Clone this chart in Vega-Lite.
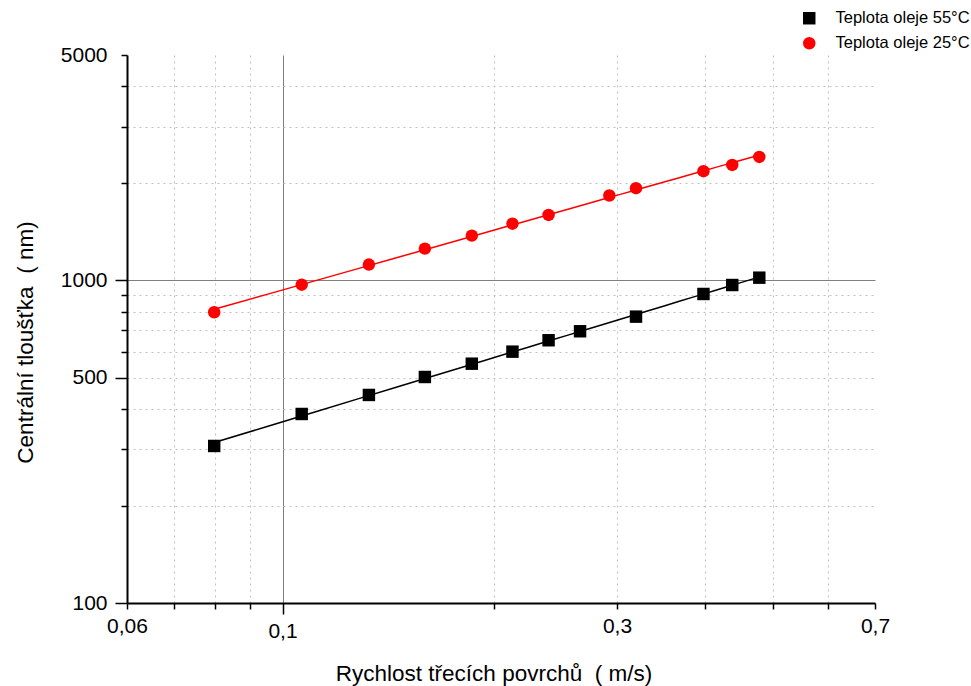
{
  "$schema": "https://vega.github.io/schema/vega-lite/v6.json",
  "width": 748,
  "height": 548,
  "autosize": {"type": "none"},
  "padding": {"left": 127, "top": 55, "right": 96, "bottom": 83},
  "background": "white",
  "config": {"font": "Liberation Sans", "view": {"stroke": null}},
  "data": {
    "values": [
      {"v": 0.0799, "h": 306.8, "s": "Teplota oleje 55°C"},
      {"v": 0.1065, "h": 385.5, "s": "Teplota oleje 55°C"},
      {"v": 0.1328, "h": 441.6, "s": "Teplota oleje 55°C"},
      {"v": 0.1596, "h": 502, "s": "Teplota oleje 55°C"},
      {"v": 0.1862, "h": 552, "s": "Teplota oleje 55°C"},
      {"v": 0.2128, "h": 601.5, "s": "Teplota oleje 55°C"},
      {"v": 0.2396, "h": 652.5, "s": "Teplota oleje 55°C"},
      {"v": 0.2657, "h": 695.8, "s": "Teplota oleje 55°C"},
      {"v": 0.3193, "h": 772.3, "s": "Teplota oleje 55°C"},
      {"v": 0.3985, "h": 908, "s": "Teplota oleje 55°C"},
      {"v": 0.438, "h": 968, "s": "Teplota oleje 55°C"},
      {"v": 0.4787, "h": 1020, "s": "Teplota oleje 55°C"},
      {"v": 0.0799, "h": 797, "s": "Teplota oleje 25°C"},
      {"v": 0.1065, "h": 970, "s": "Teplota oleje 25°C"},
      {"v": 0.1328, "h": 1120, "s": "Teplota oleje 25°C"},
      {"v": 0.1596, "h": 1255, "s": "Teplota oleje 25°C"},
      {"v": 0.1862, "h": 1377, "s": "Teplota oleje 25°C"},
      {"v": 0.2128, "h": 1500, "s": "Teplota oleje 25°C"},
      {"v": 0.2396, "h": 1596, "s": "Teplota oleje 25°C"},
      {"v": 0.2925, "h": 1834, "s": "Teplota oleje 25°C"},
      {"v": 0.3193, "h": 1932, "s": "Teplota oleje 25°C"},
      {"v": 0.3985, "h": 2181, "s": "Teplota oleje 25°C"},
      {"v": 0.438, "h": 2281, "s": "Teplota oleje 25°C"},
      {"v": 0.4787, "h": 2415, "s": "Teplota oleje 25°C"}
    ]
  },
  "encoding": {
    "x": {
      "field": "v",
      "type": "quantitative",
      "scale": {"type": "log", "domain": [0.06, 0.7], "nice": false},
      "axis": {
        "title": "Rychlost třecích povrchů \u00a0( m/s)",
        "values": [0.06, 0.07, 0.08, 0.09, 0.1, 0.2, 0.3, 0.4, 0.5, 0.6, 0.7],
        "format": ".2~f",
        "labelExpr": "indexof(['0.06','0.1','0.3','0.7'], datum.label) >= 0 ? replace(datum.label, '.', ',') : ''",
        "labelFontSize": 21,
        "labelColor": "black",
        "labelFlush": false,
        "labelOverlap": false,
        "labelPadding": 6,
        "domainColor": "black",
        "domainWidth": 2,
        "tickColor": "black",
        "tickWidth": 1.5,
        "tickSize": {"condition": {"test": "datum.value == 0.1", "value": 11}, "value": 6},
        "grid": true,
        "gridColor": {"condition": {"test": "datum.value == 0.1", "value": "#808080"}, "value": "#c0c0c0"},
        "gridDash": {"condition": {"test": "datum.value == 0.1", "value": []}, "value": [2, 4]},
        "gridOpacity": {"condition": {"test": "datum.value == 0.06 || datum.value == 0.7", "value": 0}, "value": 1},
        "gridWidth": 1,
        "titleFontSize": 22.5,
        "titleFontWeight": "normal",
        "titleColor": "black",
        "titleX": 366.5,
        "titleY": 77,
        "titleBaseline": "alphabetic",
        "titleAlign": "center"
      }
    },
    "y": {
      "field": "h",
      "type": "quantitative",
      "scale": {"type": "log", "domain": [100, 5000], "nice": false},
      "axis": {
        "title": "Centrální tloušťka \u00a0( nm)",
        "values": [100, 200, 300, 400, 500, 600, 700, 800, 900, 1000, 2000, 3000, 4000, 5000],
        "format": "d",
        "labelExpr": "indexof([100,500,1000,5000], datum.value) >= 0 ? datum.label : ''",
        "labelFontSize": 21,
        "labelColor": "black",
        "labelFlush": false,
        "labelOverlap": false,
        "labelPadding": {"condition": {"test": "datum.value == 5000", "value": 14}, "value": 8},
        "domainColor": "black",
        "domainWidth": 2,
        "tickColor": "black",
        "tickWidth": 1.5,
        "tickSize": {"condition": {"test": "datum.value == 100 || datum.value == 500 || datum.value == 1000", "value": 12}, "value": 6},
        "grid": true,
        "gridColor": {"condition": {"test": "datum.value == 1000", "value": "#808080"}, "value": "#c0c0c0"},
        "gridDash": {"condition": {"test": "datum.value == 1000", "value": []}, "value": [2, 4]},
        "gridOpacity": {"condition": {"test": "datum.value == 100 || datum.value == 5000", "value": 0}, "value": 1},
        "gridWidth": 1,
        "titleFontSize": 22.5,
        "titleFontWeight": "normal",
        "titleColor": "black",
        "titleAngle": 270,
        "titleX": -95,
        "titleY": 287,
        "titleBaseline": "alphabetic",
        "titleAlign": "center"
      }
    }
  },
  "layer": [
    {
      "transform": [
        {"filter": "datum.s == 'Teplota oleje 55°C'"},
        {"regression": "h", "on": "v", "method": "pow"}
      ],
      "mark": {"type": "line", "strokeWidth": 1.5, "color": "black"}
    },
    {
      "transform": [
        {"filter": "datum.s == 'Teplota oleje 25°C'"},
        {"regression": "h", "on": "v", "method": "pow"}
      ],
      "mark": {"type": "line", "strokeWidth": 1.5, "color": "#ff0000"}
    },
    {
      "mark": {"type": "point", "filled": true, "opacity": 1, "size": 155},
      "encoding": {
        "color": {
          "field": "s",
          "type": "nominal",
          "scale": {"domain": ["Teplota oleje 55°C", "Teplota oleje 25°C"], "range": ["black", "#ff0000"]},
          "legend": {
            "title": null,
            "orient": "none",
            "legendX": 674,
            "legendY": -45,
            "padding": 0,
            "labelFontSize": 16.5,
            "labelColor": "black",
            "labelOffset": 18,
            "symbolSize": 155,
            "symbolStrokeWidth": 0,
            "symbolOpacity": 1,
            "rowPadding": 8,
            "labelLimit": 300
          }
        },
        "shape": {
          "field": "s",
          "type": "nominal",
          "scale": {"domain": ["Teplota oleje 55°C", "Teplota oleje 25°C"], "range": ["square", "circle"]}
        }
      }
    }
  ]
}
